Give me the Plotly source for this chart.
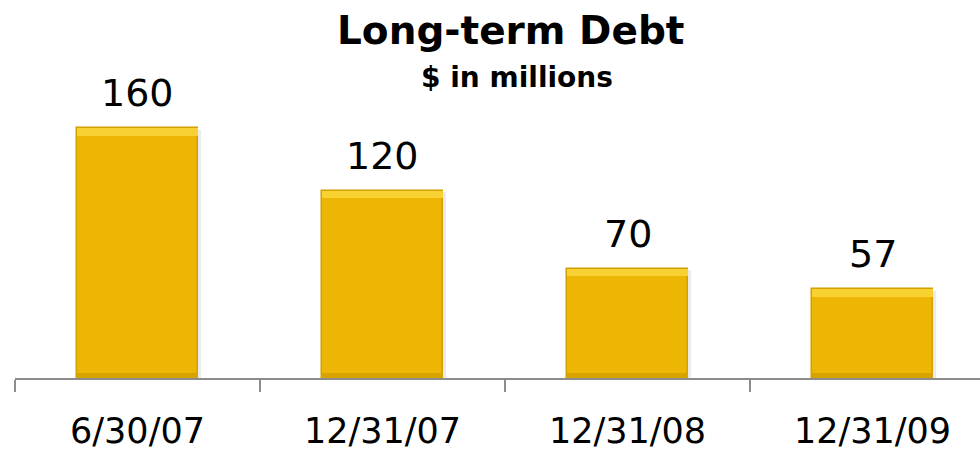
import plotly.graph_objects as go

# Long-term debt by period end, $ in millions
periods = ["6/30/07", "12/31/07", "12/31/08", "12/31/09"]
debt = [160, 120, 70, 57]

FONT = "Verdana, DejaVu Sans, sans-serif"
GOLD = "#EEB604"
GOLD_LIGHT = "#F8D232"
GOLD_DARK = "#D2A000"
BAR_W = 0.49
TOP_BEVEL = 5.0     # data units for the light top facet
BOTTOM_BEVEL = 3.0  # data units for the darker bottom facet

fig = go.Figure()

# soft drop shadow behind each bar
fig.add_trace(go.Bar(
    x=periods, y=[v + 0.5 for v in debt], base=-1.5,
    width=BAR_W + 0.012, offset=-(BAR_W / 2) + 0.002,
    marker=dict(color="rgba(0,0,0,0.08)", line=dict(width=0)),
    hoverinfo="skip", showlegend=False,
))

# main bar body
fig.add_trace(go.Bar(
    x=periods, y=debt, width=BAR_W,
    marker=dict(color=GOLD, line=dict(color=GOLD_DARK, width=1.5)),
    showlegend=False,
))

# bevel: darker bottom facet
fig.add_trace(go.Bar(
    x=periods, y=[BOTTOM_BEVEL] * len(debt), base=0, width=BAR_W,
    marker=dict(color="#D6A300", line=dict(width=0)),
    hoverinfo="skip", showlegend=False,
))

# bevel: lighter top facet
fig.add_trace(go.Bar(
    x=periods, y=[TOP_BEVEL] * len(debt), base=[v - TOP_BEVEL for v in debt],
    width=BAR_W,
    marker=dict(color=GOLD_LIGHT, line=dict(width=0)),
    hoverinfo="skip", showlegend=False,
))

# value labels above bars
for p, v in zip(periods, debt):
    fig.add_annotation(
        x=p, y=v, xref="x", yref="y", text=str(v),
        showarrow=False, yanchor="bottom", yshift=11,
        font=dict(family=FONT, size=38, color="#000000"),
    )

# title and subtitle
fig.add_annotation(
    x=0.513, y=1.25, xref="paper", yref="paper", text="<b>Long-term Debt</b>",
    showarrow=False, xanchor="center", yanchor="middle",
    font=dict(family=FONT, size=39, color="#000000"),
)
fig.add_annotation(
    x=0.52, y=1.08, xref="paper", yref="paper", text="<b>$ in millions</b>",
    showarrow=False, xanchor="center", yanchor="middle",
    font=dict(family=FONT, size=28, color="#000000"),
)

fig.update_layout(
    width=980, height=452,
    margin=dict(l=15, r=0, t=100, b=74, autoexpand=False),
    paper_bgcolor="white", plot_bgcolor="white",
    barmode="overlay",
    bargap=0,
)
fig.update_xaxes(
    type="category", automargin=False,
    range=[-0.5, -0.5 + 965 / 245],
    showline=True, linecolor="#8C8C8C", linewidth=2,
    ticks="outside", tickson="boundaries", ticklen=12, tickwidth=2, tickcolor="#8C8C8C",
    ticklabelstandoff=21,
    tickfont=dict(family=FONT, size=35, color="#000000"),
    showgrid=False, zeroline=False, fixedrange=True,
)
fig.update_yaxes(
    range=[0, 178], visible=False, showgrid=False, zeroline=False, fixedrange=True,
    automargin=False,
)

fig.write_html("out.html")
